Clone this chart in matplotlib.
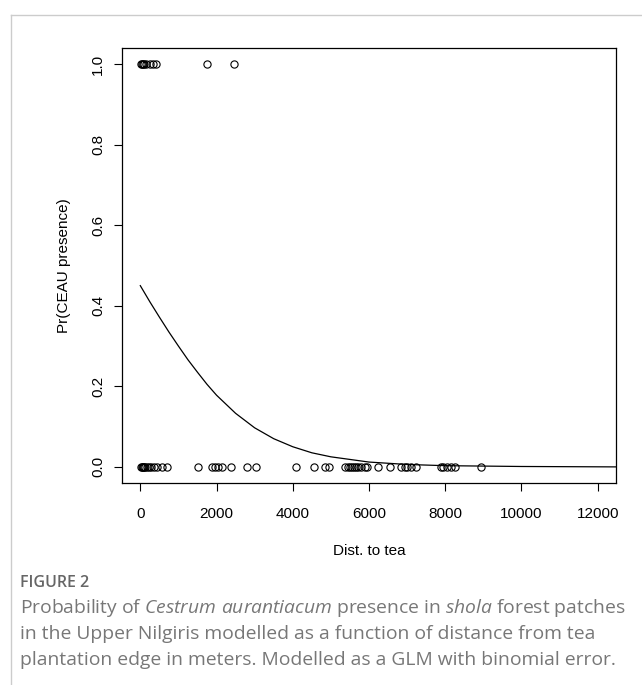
import matplotlib.pyplot as plt
from matplotlib.lines import Line2D

# presence (y = 1) and absence (y = 0) sites, distance to tea edge in metres
present_x = [20, 50, 80, 110, 150, 250, 330, 420, 1760, 2470]
absent_x = [20, 40, 60, 80, 100, 130, 170, 220, 280, 350, 450, 580, 710,
            1520, 1880, 1950, 2050, 2150, 2380, 2800, 3030, 4080, 4570,
            4850, 4950, 5380, 5450, 5500, 5550, 5600, 5650, 5700, 5800,
            5900, 5960, 6230, 6550, 6850, 6950, 7000, 7100, 7230, 7900,
            7950, 8050, 8150, 8250, 8950]

# fitted GLM curve
curve_x = [0, 250, 500, 750, 1000, 1250, 1500, 1750, 2000, 2500, 3000,
           3500, 4000, 4500, 5000, 6000, 7000, 8000, 10000, 12480]
curve_y = [0.450, 0.410, 0.372, 0.335, 0.300, 0.266, 0.235, 0.205, 0.178,
           0.133, 0.097, 0.070, 0.050, 0.035, 0.025, 0.012, 0.006, 0.003,
           0.001, 0.000]

x_ticks = [0, 2000, 4000, 6000, 8000, 10000, 12000]
y_ticks = [0.0, 0.2, 0.4, 0.6, 0.8, 1.0]

plt.rcParams["font.family"] = ["Liberation Sans", "DejaVu Sans"]
plt.rcParams["mathtext.fontset"] = "custom"
plt.rcParams["mathtext.rm"] = "Open Sans"
plt.rcParams["mathtext.it"] = "Open Sans:italic"

fig = plt.figure(figsize=(6.42, 6.85), dpi=100)
ax = fig.add_axes([122 / 642, 1 - 483 / 685, (616 - 122) / 642, (483 - 48) / 685])

ax.plot(curve_x, curve_y, color="black", lw=0.9)
ax.plot(present_x, [1] * len(present_x), ls="none", marker="o", ms=5.2,
        mfc="none", mec="black", mew=0.8)
ax.plot(absent_x, [0] * len(absent_x), ls="none", marker="o", ms=5.2,
        mfc="none", mec="black", mew=0.8)

ax.set_xlim(-480, 12480)
ax.set_ylim(-0.04, 1.04)
ax.set_xticks(x_ticks)
ax.set_xticklabels([str(t) for t in x_ticks])
ax.set_yticks(y_ticks)
ax.set_yticklabels([f"{t:.1f}" for t in y_ticks], rotation=90, va="center")
ax.tick_params(direction="out", length=6, width=0.8, labelsize=11, pad=6)
ax.tick_params(axis="x", pad=11)
for s in ax.spines.values():
    s.set_linewidth(0.9)
ax.set_xlabel("Dist. to tea", fontsize=11, labelpad=17)
ax.set_ylabel("Pr(CEAU presence)", fontsize=11, labelpad=15)

# page frame lines
fig.add_artist(Line2D([11 / 642, 1], [1 - 15 / 685, 1 - 15 / 685], color="#cccccc", lw=1))
fig.add_artist(Line2D([11 / 642, 11 / 642], [0, 1 - 15 / 685], color="#cccccc", lw=1))

cap = ["Open Sans", "DejaVu Sans"]
fig.text(20 / 642, 1 - 583 / 685, "FIGURE 2", fontsize=11.5, color="#666666",
         family=cap, weight="semibold", va="center")
lines = [
    r"Probability of $\it{Cestrum\ aurantiacum}$ presence in $\it{shola}$ forest patches",
    "in the Upper Nilgiris modelled as a function of distance from tea",
    "plantation edge in meters. Modelled as a GLM with binomial error.",
]
for i, t in enumerate(lines):
    fig.text(20 / 642, 1 - (608 + 26 * i) / 685, t, fontsize=13.9,
             color="#777777", family=cap, va="center")

fig.savefig("out.png", dpi=100)
